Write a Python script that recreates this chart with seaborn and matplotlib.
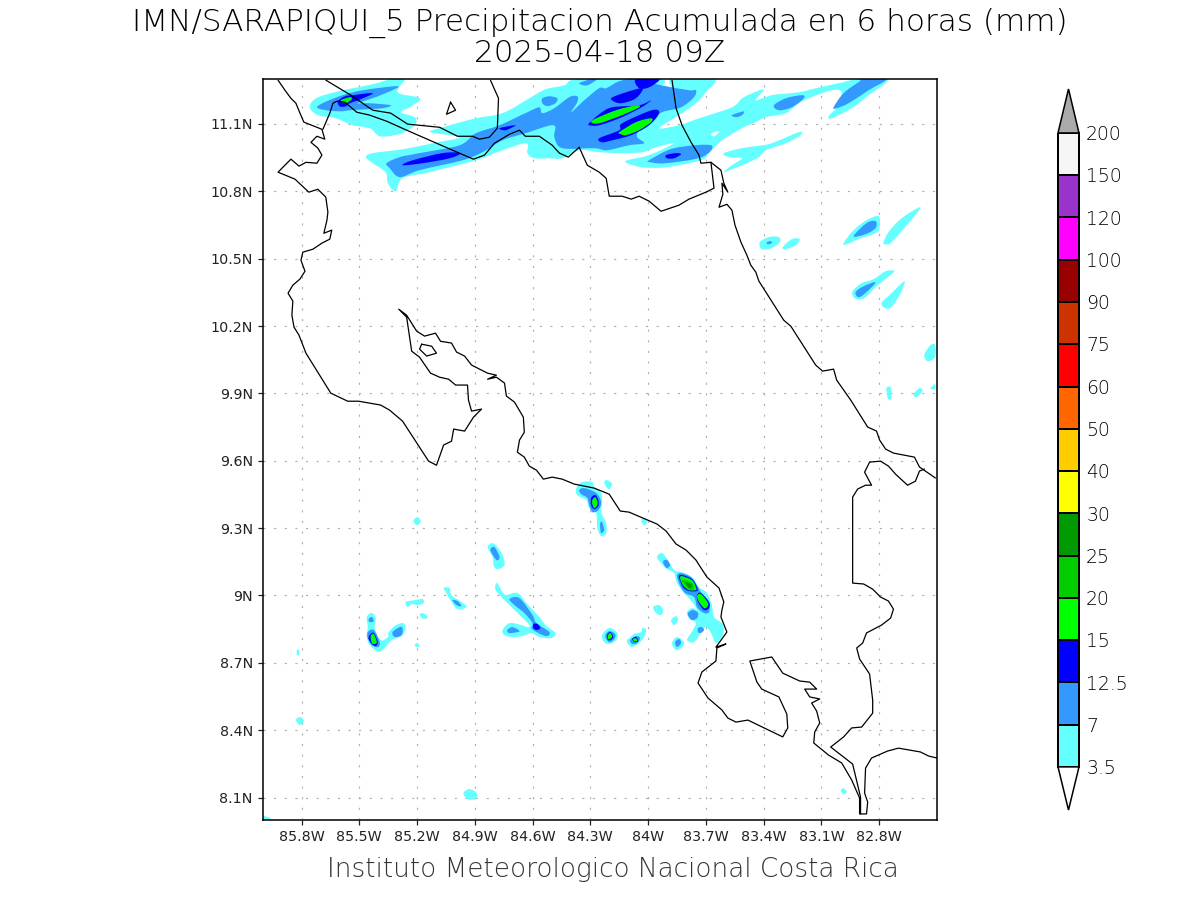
import numpy as np
import matplotlib
matplotlib.use("Agg")
import matplotlib.pyplot as plt
from matplotlib.colors import ListedColormap
from matplotlib.path import Path
from matplotlib.patches import PathPatch
import seaborn as sns

# all positions are (degrees west, degrees north)
TITLE = "IMN/SARAPIQUI_5 Precipitacion Acumulada en 6 horas (mm)\n2025-04-18 09Z"
FOOTER = "Instituto Meteorologico Nacional Costa Rica"

lon_ticks = [85.8, 85.5, 85.2, 84.9, 84.6, 84.3, 84.0, 83.7, 83.4, 83.1, 82.8]
lon_labels = ["85.8W", "85.5W", "85.2W", "84.9W", "84.6W", "84.3W", "84W", "83.7W", "83.4W", "83.1W", "82.8W"]
lat_ticks = [8.1, 8.4, 8.7, 9.0, 9.3, 9.6, 9.9, 10.2, 10.5, 10.8, 11.1]
lat_labels = ["8.1N", "8.4N", "8.7N", "9N", "9.3N", "9.6N", "9.9N", "10.2N", "10.5N", "10.8N", "11.1N"]

levels = ["3.5", "7", "12.5", "15", "20", "25", "30", "40", "50", "60", "75", "90", "100", "120", "150", "200"]
level_colors = ["#66FFFF", "#3399FF", "#0000FF", "#00FF00", "#00CC00", "#009900", "#FFFF00", "#FFCC00",
                "#FF6600", "#FF0000", "#CC3300", "#990000", "#FF00FF", "#9933CC", "#F5F5F5"]

pacific_coast = [(85.922,11.295),(85.886,11.25),(85.855,11.214),(85.829,11.192),(85.808,11.148),(85.788,11.108),
    (85.694,11.076),(85.679,11.032),(85.72,11.045),(85.751,11.018),(85.715,10.992),(85.694,10.961),(85.72,10.925),
    (85.777,10.929),(85.813,10.912),(85.855,10.943),(85.922,10.885),(85.834,10.854),(85.762,10.796),(85.715,10.809),
    (85.674,10.774),(85.663,10.707),(85.668,10.671),(85.684,10.613),(85.643,10.627),(85.653,10.587),(85.694,10.569),
    (85.741,10.542),(85.793,10.529),(85.803,10.493),(85.782,10.444),(85.808,10.409),(85.845,10.382),(85.87,10.346),
    (85.845,10.311),(85.85,10.248),(85.839,10.195),(85.813,10.159),(85.777,10.079),(85.648,9.901),(85.56,9.865),
    (85.503,9.865),(85.389,9.848),(85.342,9.825),(85.275,9.776),(85.14,9.598),(85.099,9.58),(85.062,9.67),
    (85.021,9.687),(85.01,9.741),(84.953,9.732),(84.907,9.794),(84.865,9.83),(84.917,9.821),(84.933,9.87),
    (84.938,9.937),(85.0,9.937),(85.036,9.963),(85.083,9.972),(85.13,9.99),(85.187,10.061),(85.228,10.088),
    (85.254,10.239),(85.295,10.275),(85.254,10.248),(85.202,10.177),(85.161,10.155),(85.104,10.168),(85.078,10.132),
    (85.021,10.124),(84.995,10.084),(84.953,10.066),(84.917,10.026),(84.834,9.99),(84.788,9.981),(84.834,9.963),
    (84.788,9.972),(84.746,9.946),(84.736,9.888),(84.694,9.861),(84.648,9.794),(84.643,9.727),(84.668,9.692),
    (84.679,9.638),(84.643,9.616),(84.617,9.576),(84.58,9.558),(84.544,9.518),(84.498,9.527),(84.446,9.518),
    (84.384,9.496),(84.28,9.478),(84.202,9.451),(84.145,9.376),(84.099,9.371),(83.954,9.318),(83.907,9.287),
    (83.855,9.229),(83.803,9.202),(83.752,9.158),(83.695,9.082),(83.632,9.033),(83.607,8.971),(83.617,8.935),
    (83.622,8.904),(83.591,8.837),(83.648,8.77),(83.596,8.784),(83.643,8.766),(83.648,8.708),(83.721,8.659),
    (83.741,8.61),(83.689,8.543),(83.617,8.49),(83.586,8.454),(83.544,8.436),(83.482,8.445),(83.301,8.37),
    (83.275,8.41),(83.28,8.472),(83.321,8.548),(83.41,8.583),(83.435,8.614),(83.472,8.708),(83.358,8.726),
    (83.301,8.654),(83.213,8.619),(83.161,8.614),(83.125,8.583),(83.187,8.583),(83.161,8.548),(83.109,8.539),
    (83.151,8.521),(83.125,8.485),(83.109,8.432),(83.135,8.392),(83.14,8.343),(83.063,8.289),(82.995,8.254),
    (82.943,8.178),(82.902,8.098),(82.902,8.027),(82.866,8.027),(82.86,8.08),(82.876,8.12),(82.871,8.231),
    (82.84,8.276),(82.757,8.307),(82.70,8.32),(82.586,8.303),(82.544,8.285),(82.50,8.276)]
panama_coast = [(82.897,8.027),(82.897,8.102),(82.938,8.249),(83.052,8.325),(82.985,8.37),(82.943,8.41),(82.891,8.414),
    (82.834,8.476),(82.834,8.534),(82.85,8.65),(82.902,8.717),(82.917,8.766),(82.886,8.788),(82.866,8.833),
    (82.788,8.868),(82.741,8.899),(82.726,8.939),(82.752,8.975),(82.793,8.993),(82.834,9.028),(82.881,9.051),
    (82.938,9.055),(82.938,9.438),(82.912,9.474),(82.871,9.491),(82.84,9.491),(82.876,9.549),(82.85,9.594),
    (82.793,9.598),(82.752,9.576),(82.715,9.54),(82.653,9.491),(82.612,9.509),(82.591,9.554),(82.565,9.563)]
border_north = [(83.876,11.295),(83.855,11.17),(83.824,11.094),(83.777,11.018),(83.736,10.961),(83.726,10.925),
    (83.674,10.929),(83.658,10.814),(83.70,10.796),(83.788,10.765),(83.84,10.738),(83.933,10.711),(83.995,10.756),
    (84.047,10.778),(84.088,10.765),(84.135,10.778),(84.202,10.778),(84.218,10.858),(84.254,10.885),(84.316,10.916),
    (84.358,10.996),(84.415,10.952),(84.461,10.97),(84.498,11.005),(84.565,11.045),(84.638,11.045),(84.668,11.072),
    (84.72,11.054),(84.798,11.014),(84.85,10.961),(84.907,10.943),(85.016,10.983),(85.254,11.072),(85.358,11.112),
    (85.446,11.139),(85.513,11.152),(85.575,11.197),(85.617,11.201),(85.637,11.192),(85.653,11.148),(85.689,11.076)]
lake_shore = [(85.674,11.295),(85.544,11.228),(85.43,11.161),(85.337,11.148),(85.249,11.099),(85.083,11.085),
    (84.99,11.045),(84.912,11.045),(84.876,11.032),(84.824,11.041),(84.783,11.081),(84.777,11.214),(84.819,11.295)]
lake_island = [(85.026,11.197),(85.0,11.161),(85.047,11.143),(85.026,11.197)]
gulf_island = [(85.176,10.119),(85.124,10.11),(85.099,10.079),(85.15,10.066),(85.187,10.097),(85.176,10.119)]
caribbean_coast = [(83.674,10.929),(83.622,10.894),(83.607,10.836),(83.586,10.796),(83.617,10.836),(83.612,10.787),
    (83.632,10.729),(83.591,10.742),(83.565,10.716),(83.549,10.649),(83.518,10.573),(83.487,10.515),(83.467,10.471),
    (83.441,10.44),(83.425,10.40),(83.296,10.226),(83.259,10.199),(83.13,10.026),(83.094,9.999),(83.037,10.008),
    (83.021,9.959),(82.948,9.87),(82.86,9.75),(82.814,9.732),(82.798,9.692),(82.767,9.652),(82.726,9.634),
    (82.617,9.616),(82.591,9.572),(82.508,9.523)]
coast_lines = [pacific_coast, panama_coast, border_north, lake_shore, lake_island, gulf_island, caribbean_coast]

# 3.5 - 7 mm
rain_cyan = [
    [(85.757,11.174),(85.725,11.214),(85.611,11.245),(85.43,11.277),(85.332,11.3),(85.264,11.3),(85.301,11.241),
     (85.197,11.219),(85.187,11.205),(85.238,11.174),(85.285,11.152),(85.213,11.13),(85.207,11.099),(85.259,11.067),
     (85.316,11.05),(85.394,11.045),(85.446,11.081),(85.534,11.094),(85.622,11.125),(85.715,11.139)],
    [(85.466,10.952),(85.43,10.97),(85.275,10.987),(85.119,11.014),(84.979,11.041),(85.13,11.063),(85.067,11.085),
     (84.896,11.125),(84.756,11.148),(84.617,11.214),(84.534,11.254),(84.435,11.272),(84.358,11.3),(83.943,11.3),
     (83.933,11.263),(83.881,11.259),(83.876,11.3),(83.658,11.3),(83.70,11.241),(83.752,11.192),(83.84,11.139),
     (83.943,11.081),(83.84,11.094),(83.736,11.125),(83.565,11.174),(83.503,11.219),(83.399,11.254),(83.441,11.205),
     (83.358,11.228),(83.218,11.241),(83.13,11.259),(83.011,11.281),(82.907,11.3),(82.752,11.3),(82.855,11.228),
     (82.943,11.17),(83.047,11.125),(83.063,11.134),(83.021,11.174),(82.995,11.241),(83.047,11.25),(83.151,11.219),
     (83.218,11.192),(83.285,11.148),(83.389,11.13),(83.441,11.108),(83.513,11.081),(83.617,11.027),(83.684,10.97),
     (83.726,10.938),(83.907,10.907),(84.031,10.907),(84.109,10.925),(84.109,10.938),(83.995,10.961),(83.865,11.014),
     (83.959,10.996),(84.031,10.974),(84.15,10.97),(84.254,10.974),(84.358,10.983),(84.446,10.947),(84.513,10.947),
     (84.591,10.947),(84.627,10.97),(84.632,11.014),(84.756,10.983),(84.896,10.938),(85.135,10.885),(85.275,10.858),
     (85.311,10.80),(85.352,10.836),(85.363,10.885),(85.43,10.925)],
    [(83.607,10.97),(83.513,10.992),(83.441,11.001),(83.358,11.014),(83.218,11.063),(83.208,11.05),(83.285,11.014),
     (83.389,10.983),(83.425,10.952),(83.513,10.916),(83.607,10.885),(83.565,10.916),(83.513,10.947),(83.581,10.952)],
    [(83.42,10.573),(83.373,10.596),(83.321,10.596),(83.316,10.573),(83.358,10.547),(83.41,10.542)],
    [(83.301,10.551),(83.254,10.587),(83.213,10.587),(83.233,10.56),(83.285,10.542)],
    [(82.985,10.569),(82.933,10.627),(82.866,10.671),(82.804,10.689),(82.798,10.64),(82.819,10.613),(82.897,10.591),(82.969,10.564)],
    [(82.778,10.569),(82.752,10.618),(82.684,10.68),(82.586,10.729),(82.648,10.658),(82.736,10.573),(82.762,10.564)],
    [(82.938,10.355),(82.891,10.391),(82.829,10.409),(82.767,10.444),(82.721,10.444),(82.762,10.413),(82.819,10.373),
     (82.871,10.328),(82.907,10.319),(82.933,10.328)],
    [(82.788,10.302),(82.736,10.346),(82.669,10.40),(82.689,10.346),(82.736,10.284),(82.767,10.279)],
    [(82.565,10.075),(82.534,10.115),(82.51,10.115),(82.51,10.061),(82.544,10.043),(82.56,10.052)],
    [(82.762,9.923),(82.741,9.928),(82.736,9.883),(82.746,9.87),(82.757,9.883)],
    [(82.622,9.897),(82.591,9.923),(82.575,9.91),(82.607,9.883)],
    [(82.534,9.923),(82.51,9.941),(82.51,9.919)],
    [(85.218,9.336),(85.197,9.349),(85.181,9.331),(85.197,9.313),(85.213,9.322)],
    [(84.834,9.215),(84.808,9.233),(84.783,9.215),(84.756,9.18),(84.746,9.135),(84.783,9.117),(84.803,9.135),(84.808,9.171)],
    [(85.062,9.033),(85.031,9.033),(85.021,9.002),(84.969,8.971),(84.943,8.948),(84.99,8.939),(85.021,8.971),(85.042,9.002)],
    [(85.259,8.971),(85.213,8.979),(85.171,8.984),(85.166,8.966),(85.197,8.957),(85.228,8.962),(85.249,8.948)],
    [(85.187,8.913),(85.171,8.922),(85.145,8.904),(85.166,8.895)],
    [(85.213,8.779),(85.197,8.788),(85.187,8.775),(85.202,8.77)],
    [(85.461,8.904),(85.435,8.922),(85.415,8.899),(85.42,8.855),(85.389,8.801),(85.352,8.815),(85.347,8.837),(85.316,8.864),
     (85.275,8.877),(85.259,8.855),(85.28,8.819),(85.332,8.801),(85.378,8.757),(85.409,8.752),(85.446,8.779),(85.461,8.815),(85.456,8.859)],
    [(84.793,9.046),(84.783,9.055),(84.756,9.015),(84.736,9.002),(84.679,9.011),(84.632,8.966),(84.565,8.904),(84.529,8.864),
     (84.482,8.833),(84.503,8.81),(84.565,8.815),(84.606,8.833),(84.653,8.819),(84.705,8.815),(84.746,8.824),(84.756,8.846),
     (84.72,8.877),(84.658,8.868),(84.627,8.859),(84.617,8.868),(84.668,8.913),(84.72,8.957),(84.772,9.002),(84.793,9.028)],
    [(84.373,9.478),(84.342,9.505),(84.29,9.505),(84.28,9.483),(84.244,9.456),(84.239,9.411),(84.244,9.371),(84.218,9.322),
     (84.218,9.278),(84.244,9.264),(84.264,9.30),(84.27,9.367),(84.306,9.389),(84.321,9.425),(84.368,9.447)],
    [(84.228,9.505),(84.213,9.514),(84.187,9.496),(84.202,9.474),(84.218,9.483)],
    [(84.036,9.336),(84.016,9.345),(84.005,9.327),(84.021,9.313)],
    [(83.954,9.171),(83.928,9.189),(83.891,9.149),(83.865,9.113),(83.829,9.104),(83.772,9.082),(83.736,9.037),(83.695,9.011),
     (83.669,8.957),(83.658,8.904),(83.617,8.877),(83.607,8.846),(83.617,8.815),(83.648,8.788),(83.674,8.833),(83.70,8.859),
     (83.726,8.833),(83.762,8.792),(83.798,8.801),(83.777,8.833),(83.752,8.877),(83.788,8.899),(83.798,8.926),(83.772,8.944),
     (83.746,8.935),(83.772,8.971),(83.814,9.011),(83.85,9.055),(83.865,9.10),(83.902,9.117),(83.933,9.144)],
    [(83.974,8.948),(83.943,8.957),(83.922,8.935),(83.933,8.913),(83.959,8.922)],
    [(83.881,8.89),(83.855,8.908),(83.845,8.89),(83.865,8.868)],
    [(83.876,8.788),(83.85,8.815),(83.814,8.792),(83.824,8.77),(83.855,8.757)],
    [(84.239,8.824),(84.202,8.855),(84.161,8.833),(84.166,8.801),(84.202,8.784),(84.228,8.792)],
    [(84.109,8.801),(84.073,8.828),(84.036,8.837),(84.031,8.855),(84.01,8.846),(84.021,8.815),(84.047,8.788),(84.083,8.77),(84.104,8.784)],
    [(85.829,8.445),(85.808,8.459),(85.788,8.441),(85.808,8.423)],
    [(84.959,8.12),(84.928,8.138),(84.891,8.12),(84.896,8.093),(84.938,8.093)],
    [(86.0,8.018),(85.964,8.009),(85.964,8.0),(86.0,8.0)],
    [(83.0,8.129),(82.985,8.142),(82.969,8.125),(82.979,8.116)],
    [(85.824,8.757),(85.813,8.757),(85.813,8.735),(85.824,8.735)],
]
# dry gap inside the northern band
rain_gap = [[(83.674,11.054),(83.648,11.067),(83.632,11.063),(83.658,11.045)]]
# 7 - 12.5 mm
rain_blue = [
    [(85.72,11.174),(85.679,11.197),(85.586,11.228),(85.482,11.25),(85.301,11.268),(85.352,11.241),(85.446,11.21),(85.508,11.192),
     (85.446,11.192),(85.337,11.183),(85.378,11.17),(85.466,11.165),(85.544,11.161),(85.601,11.156),(85.674,11.161)],
    [(85.358,10.925),(85.29,10.952),(85.187,10.97),(84.979,11.005),(84.896,11.058),(84.772,11.094),(84.627,11.152),(84.565,11.174),
     (84.549,11.148),(84.487,11.17),(84.41,11.219),(84.368,11.223),(84.368,11.197),(84.399,11.152),(84.332,11.205),(84.254,11.259),
     (84.218,11.259),(84.15,11.29),(84.068,11.3),(83.933,11.272),(83.788,11.25),(83.752,11.25),(83.762,11.219),(83.829,11.174),
     (83.928,11.152),(83.98,11.116),(84.047,11.072),(84.057,11.041),(84.021,11.014),(84.099,11.005),(84.213,10.983),(84.28,10.992),
     (84.446,10.992),(84.487,11.041),(84.492,11.094),(84.638,11.058),(84.756,11.027),(84.86,10.974),(84.964,10.938),(85.187,10.894),
     (85.29,10.863),(85.342,10.903)],
    [(83.347,11.183),(83.285,11.214),(83.202,11.228),(83.192,11.214),(83.254,11.174),(83.321,11.161)],
    [(83.565,11.139),(83.503,11.156),(83.513,11.139),(83.544,11.13)],
    [(83.995,10.938),(83.865,10.992),(83.674,11.005),(83.721,10.952),(83.907,10.925),(83.985,10.929)],
    [(83.037,11.174),(82.985,11.237),(82.907,11.286),(82.881,11.3),(82.762,11.3),(82.855,11.25),(82.959,11.192),(83.021,11.17)],
    [(84.549,11.214),(84.513,11.223),(84.472,11.214),(84.482,11.192),(84.523,11.179),(84.549,11.192)],
    [(84.358,11.281),(84.296,11.3),(84.264,11.3),(84.316,11.272)],
    [(83.384,10.573),(83.363,10.578),(83.358,10.569),(83.379,10.564)],
    [(82.933,10.60),(82.866,10.658),(82.819,10.667),(82.819,10.636),(82.871,10.609)],
    [(82.923,10.351),(82.881,10.377),(82.819,10.395),(82.866,10.351),(82.907,10.328)],
    [(84.819,9.202),(84.798,9.215),(84.772,9.171),(84.788,9.158)],
    [(85.016,8.979),(84.99,8.975),(84.969,8.953),(84.995,8.957)],
    [(85.451,8.895),(85.435,8.904),(85.425,8.886),(85.446,8.881)],
    [(85.456,8.837),(85.425,8.846),(85.394,8.792),(85.404,8.77),(85.435,8.779),(85.456,8.81)],
    [(85.327,8.837),(85.29,8.859),(85.275,8.855),(85.28,8.824),(85.316,8.815)],
    [(84.72,8.984),(84.668,8.988),(84.601,8.913),(84.58,8.877),(84.513,8.837),(84.529,8.819),(84.58,8.837),(84.606,8.855),(84.601,8.877),(84.643,8.922),(84.694,8.957)],
    [(84.731,8.846),(84.705,8.859),(84.668,8.841),(84.705,8.833),(84.725,8.833)],
    [(84.358,9.469),(84.332,9.478),(84.27,9.456),(84.244,9.416),(84.259,9.38),(84.29,9.371),(84.306,9.402),(84.316,9.434),(84.347,9.451)],
    [(84.249,9.322),(84.239,9.327),(84.228,9.291),(84.244,9.278),(84.249,9.30)],
    [(83.922,9.153),(83.902,9.158),(83.886,9.135),(83.902,9.122),(83.917,9.135)],
    [(83.85,9.082),(83.829,9.10),(83.772,9.077),(83.726,9.015),(83.684,8.971),(83.684,8.926),(83.71,8.922),(83.746,8.948),(83.762,8.993),(83.814,9.015)],
    [(83.793,8.922),(83.767,8.935),(83.741,8.922),(83.746,8.899),(83.772,8.89),(83.788,8.904)],
    [(83.741,8.855),(83.721,8.859),(83.71,8.846),(83.726,8.833),(83.741,8.837)],
    [(83.86,8.792),(83.84,8.806),(83.829,8.788),(83.85,8.77)],
    [(84.223,8.819),(84.202,8.841),(84.171,8.828),(84.176,8.806),(84.202,8.792)],
    [(84.093,8.801),(84.063,8.819),(84.042,8.81),(84.057,8.788),(84.083,8.784)],
]
# 12.5 - 15 mm
rain_dark = [
    [(85.611,11.201),(85.575,11.223),(85.534,11.228),(85.43,11.237),(85.492,11.21),(85.549,11.192),(85.57,11.178),(85.601,11.178)],
    [(85.275,10.916),(85.223,10.938),(85.067,10.97),(84.974,10.97),(85.031,10.947),(85.171,10.925)],
    [(84.772,11.081),(84.689,11.094),(84.741,11.072)],
    [(84.306,11.103),(84.254,11.143),(84.187,11.174),(84.047,11.183),(83.985,11.205),(84.042,11.17),(84.15,11.125),(84.254,11.094),(84.306,11.094)],
    [(84.254,11.036),(84.15,11.072),(84.135,11.103),(83.98,11.161),(83.943,11.148),(83.995,11.094),(84.088,11.05),(84.187,11.027),(84.239,11.018)],
    [(84.192,11.214),(84.114,11.241),(84.031,11.259),(84.047,11.228),(84.083,11.205),(84.15,11.192)],
    [(84.063,11.3),(83.943,11.3),(83.995,11.263),(84.047,11.259)],
    [(83.907,10.961),(83.855,10.97),(83.829,10.965),(83.865,10.947),(83.902,10.947)],
    [(85.446,8.824),(85.425,8.833),(85.404,8.792),(85.415,8.775),(85.435,8.784),(85.451,8.806)],
    [(84.596,8.873),(84.575,8.873),(84.56,8.855),(84.58,8.846),(84.596,8.855)],
    [(84.296,9.434),(84.275,9.447),(84.259,9.425),(84.259,9.398),(84.28,9.385),(84.296,9.402)],
    [(83.84,9.082),(83.824,9.091),(83.772,9.073),(83.746,9.037),(83.746,9.02),(83.788,9.02),(83.819,9.037)],
    [(83.746,9.002),(83.726,9.011),(83.684,8.971),(83.684,8.944),(83.71,8.935),(83.741,8.971)],
    [(84.213,8.824),(84.197,8.837),(84.182,8.819),(84.187,8.806),(84.208,8.801)],
    [(84.083,8.806),(84.063,8.815),(84.052,8.797),(84.068,8.792)],
]
# 15 - 20 mm
rain_green = [
    [(85.596,11.205),(85.549,11.219),(85.539,11.21),(85.57,11.192)],
    [(84.296,11.108),(84.27,11.125),(84.166,11.161),(84.063,11.183),(84.047,11.174),(84.135,11.139),(84.254,11.103)],
    [(84.15,11.063),(84.063,11.108),(83.985,11.125),(83.985,11.108),(84.047,11.072),(84.114,11.05),(84.14,11.054)],
    [(85.441,8.819),(85.425,8.828),(85.409,8.792),(85.42,8.784),(85.435,8.788)],
    [(84.29,9.425),(84.275,9.438),(84.264,9.42),(84.264,9.402),(84.28,9.389),(84.29,9.407)],
    [(83.834,9.077),(83.824,9.086),(83.772,9.068),(83.752,9.037),(83.752,9.024),(83.788,9.024),(83.819,9.046)],
    [(83.746,8.997),(83.726,9.006),(83.689,8.966),(83.695,8.948),(83.71,8.944),(83.736,8.971)],
    [(84.208,8.824),(84.197,8.833),(84.187,8.819),(84.192,8.81),(84.208,8.806)],
    [(84.078,8.806),(84.063,8.81),(84.057,8.797),(84.073,8.797)],
]
# 20 - 25 mm
rain_green2 = [[(83.824,9.068),(83.777,9.059),(83.762,9.037),(83.777,9.024),(83.808,9.046)]]
# 25 - 30 mm
rain_green3 = [[(83.803,9.059),(83.772,9.046),(83.783,9.033),(83.798,9.042)]]

rain_layers = [(rain_cyan, level_colors[0]), (rain_gap, "white"), (rain_blue, level_colors[1]), (rain_dark, level_colors[2]),
               (rain_green, level_colors[3]), (rain_green2, level_colors[4]), (rain_green3, level_colors[5])]


def smooth_patch(poly, color):
    # rounded outline through the read points, like the contour shading of the original
    pts = np.array(poly)
    verts = [pts[0]]
    codes = [Path.MOVETO]
    n = len(pts)
    for i in range(n):
        p0, p1, p2, p3 = pts[i - 1], pts[i], pts[(i + 1) % n], pts[(i + 2) % n]
        verts += [p1 + (p2 - p0) / 6, p2 - (p3 - p1) / 6, p2]
        codes += [Path.CURVE4] * 3
    return PathPatch(Path(verts, codes), facecolor=color, edgecolor="none", lw=0, zorder=1)


sns.set_theme(style="white", rc={"axes.edgecolor": "black", "text.color": "black",
                                 "xtick.color": "#222222", "ytick.color": "#222222"})
fig = plt.figure(figsize=(12, 9), dpi=100)
ax = fig.add_axes([263 / 1200, 1 - 820 / 900, 674 / 1200, 741 / 900])

for polys, color in rain_layers:
    for poly in polys:
        ax.add_patch(smooth_patch(poly, color))

for line in coast_lines:
    xs, ys = zip(*line)
    sns.lineplot(x=list(xs), y=list(ys), sort=False, estimator=None, color="black", lw=0.9, ax=ax, zorder=3)

ax.set_xlim(86, 82.5)
ax.set_ylim(8, 11.3)
ax.set_xticks(lon_ticks)
ax.set_xticklabels(lon_labels, fontsize=10.3)
ax.set_yticks(lat_ticks)
ax.set_yticklabels(lat_labels, fontsize=10.3)
ax.tick_params(length=3.8, width=0.9, left=True, bottom=True, pad=3.5)
ax.grid(True, color="#b0b0b0", lw=0.85, linestyle=(0, (1.8, 7.2)), zorder=2)
for s in ax.spines.values():
    s.set_linewidth(1.1)
    s.set_zorder(5)

fig.text(600 / 1200, 1 - 38 / 900, TITLE, ha="center", va="center", fontsize=22.4, linespacing=1.02,
         fontweight="light", color="black")
fig.text(613 / 1200, 1 - 869 / 900, FOOTER, ha="center", va="center", fontsize=18.9, color="#333333",
         fontweight="light")

# colour key
cax = fig.add_axes([1058 / 1200, 1 - 810 / 900, 21 / 1200, 721 / 900])
cells = np.arange(len(level_colors))[::-1].reshape(-1, 1)
sns.heatmap(cells, cmap=ListedColormap(level_colors), cbar=False, linewidths=1.1, linecolor="black",
            xticklabels=False, yticklabels=False, ax=cax, clip_on=False)
n = len(level_colors)
cax.set_ylim(n + 1.02, -1.04)
cax.fill([0, 0.5, 1], [0, -1.04, 0], facecolor="#AAAAAA", edgecolor="black", lw=1.1, clip_on=False)
cax.fill([0, 0.5, 1], [n, n + 1.02, n], facecolor="white", edgecolor="black", lw=1.1, clip_on=False)
cax.set_frame_on(False)
for i, lab in enumerate(levels):
    cax.text(1.34, n - i + 0.04, lab, ha="left", va="center", fontsize=13.5, fontweight="light", clip_on=False)

fig.savefig("out.png", dpi=100)
